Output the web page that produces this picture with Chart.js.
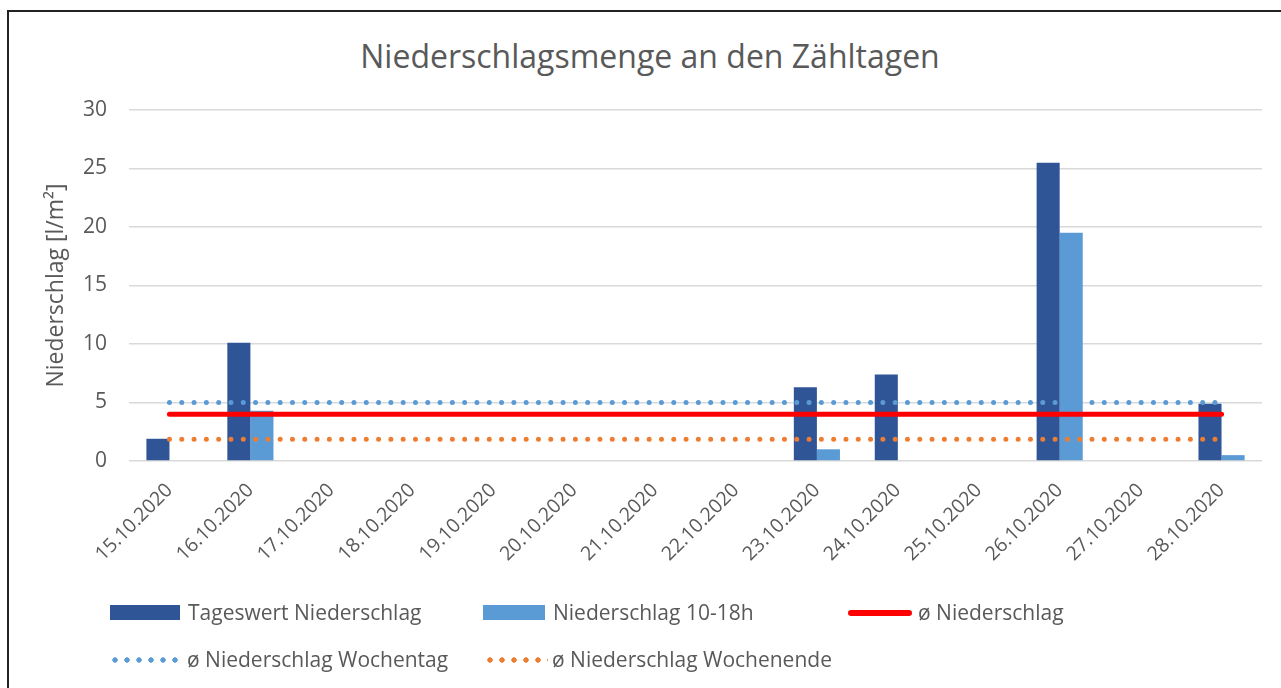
<!DOCTYPE html>
<html>
<head>
<meta charset="utf-8">
<script src="https://cdn.jsdelivr.net/npm/chart.js@4"></script>
<style>
  body { margin: 0; width: 1281px; height: 688px; overflow: hidden; position: relative; background: #fff;
         font-family: "Open Sans", sans-serif; color: #595959; }
  #frame { position: absolute; left: 7px; top: 10px; width: 1320px; height: 720px; border: 2px solid #222; }
  #wrap { position: absolute; left: 0; top: 0; width: 1281px; height: 688px; }
  #title { position: absolute; left: 0; width: 1300px; top: 33px; text-align: center; font-size: 32px; line-height: 46px; }
  .lg { position: absolute; font-size: 21px; line-height: 26px; white-space: nowrap; }
  .sym { position: absolute; }
  .dots { height: 6px; background-repeat: repeat-x; background-size: 12px 6px; }
</style>
</head>
<body>
<div id="frame"></div>
<div id="title">Niederschlagsmenge an den Zähltagen</div>
<div id="wrap"><canvas id="chart" width="1281" height="688"></canvas></div>

<div class="sym" style="left:110px; top:605px; width:70px; height:15px; background:#2F5597"></div>
<div class="lg" style="left:188px; top:599px">Tageswert Niederschlag</div>
<div class="sym" style="left:483px; top:605px; width:62px; height:15px; background:#5B9BD5"></div>
<div class="lg" style="left:553px; top:599px">Niederschlag 10-18h</div>
<div class="sym" style="left:848px; top:610px; width:64px; height:6px; border-radius:3px; background:#FF0000"></div>
<div class="lg" style="left:918px; top:599px">ø Niederschlag</div>

<div class="sym dots" style="left:109px; top:657px; width:72px; background-image:radial-gradient(circle, #5B9BD5 2.4px, transparent 3px)"></div>
<div class="lg" style="left:187px; top:646px">ø Niederschlag Wochentag</div>
<div class="sym dots" style="left:484px; top:657px; width:64px; background-image:radial-gradient(circle, #ED7D31 2.4px, transparent 3px)"></div>
<div class="lg" style="left:552px; top:646px">ø Niederschlag Wochenende</div>

<script>
// Zähltage
const days = ['15.10.2020', '16.10.2020', '17.10.2020', '18.10.2020', '19.10.2020', '20.10.2020', '21.10.2020',
              '22.10.2020', '23.10.2020', '24.10.2020', '25.10.2020', '26.10.2020', '27.10.2020', '28.10.2020'];

// Niederschlag in l/m²
const tageswert = [1.9, 10.1, 0, 0, 0, 0, 0, 0, 6.3, 7.4, 0, 25.5, 0, 4.9];
const tagsueber = [0, 4.3, 0, 0, 0, 0, 0, 0, 1.0, 0, 0, 19.5, 0, 0.5];

// Durchschnittswerte
const avgAll = [4.0, 4.0, 4.0, 4.0, 4.0, 4.0, 4.0, 4.0, 4.0, 4.0, 4.0, 4.0, 4.0, 4.0];
const avgWeekday = [5.0, 5.0, 5.0, 5.0, 5.0, 5.0, 5.0, 5.0, 5.0, 5.0, 5.0, 5.0, 5.0, 5.0];
const avgWeekend = [1.85, 1.85, 1.85, 1.85, 1.85, 1.85, 1.85, 1.85, 1.85, 1.85, 1.85, 1.85, 1.85, 1.85];

const yTicks = [0, 5, 10, 15, 20, 25, 30];

const grey = '#595959';
Chart.defaults.font.family = '"Open Sans", sans-serif';
Chart.defaults.color = grey;

const dotted = (label, data, color) => ({
  type: 'line', label, data, borderColor: color, borderWidth: 5,
  borderDash: [0, 12.3], borderCapStyle: 'round', pointRadius: 0, fill: false, order: 0
});

new Chart(document.getElementById('chart'), {
  type: 'bar',
  data: {
    labels: days,
    datasets: [
      { label: 'Tageswert Niederschlag', data: tageswert, backgroundColor: '#2F5597', order: 2,
        categoryPercentage: 0.57, barPercentage: 1 },
      { label: 'Niederschlag 10-18h', data: tagsueber, backgroundColor: '#5B9BD5', order: 2,
        categoryPercentage: 0.57, barPercentage: 1 },
      { type: 'line', label: 'ø Niederschlag', data: avgAll, borderColor: '#FF0000', borderWidth: 5,
        borderCapStyle: 'round', pointRadius: 0, fill: false, order: 0 },
      dotted('ø Niederschlag Wochentag', avgWeekday, '#5B9BD5'),
      dotted('ø Niederschlag Wochenende', avgWeekend, '#ED7D31')
    ]
  },
  options: {
    responsive: false,
    animation: false,
    layout: { padding: { left: 43, right: 19, top: 110, bottom: 97 } },
    plugins: { legend: { display: false }, title: { display: false }, tooltip: { enabled: false } },
    scales: {
      x: {
        grid: { display: false },
        border: { display: false },
        ticks: { font: { size: 19.5 }, minRotation: 45, maxRotation: 45, padding: 10, autoSkip: false },
        afterFit: s => { s.height = 130; }
      },
      y: {
        min: 0, max: 30,
        afterBuildTicks: s => { s.ticks = yTicks.map(v => ({ value: v })); },
        grid: { color: '#D9D9D9', lineWidth: 1.5, drawTicks: false },
        border: { display: false },
        ticks: { font: { size: 21 }, padding: 22 },
        title: { display: true, text: 'Niederschlag [l/m²]', font: { size: 23 }, padding: 0 },
        afterFit: s => { s.width = 86; }
      }
    }
  }
});
</script>
</body>
</html>
